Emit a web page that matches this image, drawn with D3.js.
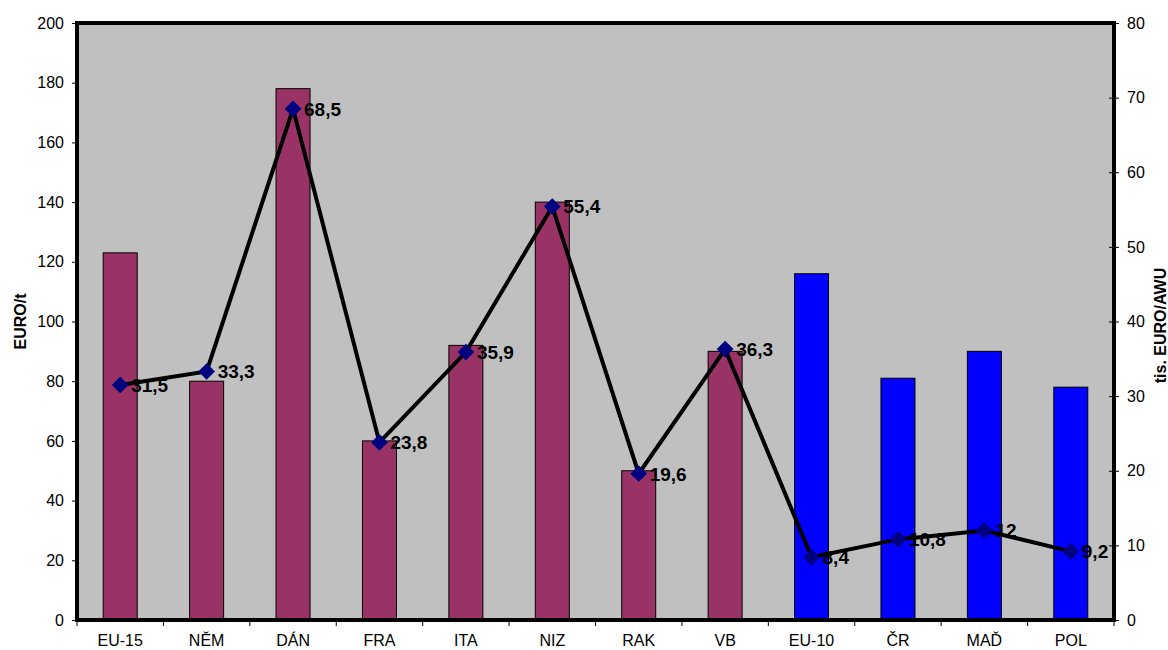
<!DOCTYPE html>
<html>
<head>
<meta charset="utf-8">
<script src="https://cdn.jsdelivr.net/npm/d3@7"></script>
<style>
  body { margin: 0; background: #fff; }
  svg { font-family: "Liberation Sans", Arial, sans-serif; }
  .axis text { font-size: 16px; fill: #000; }
  .axis path, .axis line { stroke: #000; }
  .title { font-size: 16px; font-weight: bold; }
  .lbl { font-size: 19px; font-weight: bold; }
</style>
</head>
<body>
<svg width="1168" height="650"></svg>
<script>
var categories = ["EU-15", "NĚM", "DÁN", "FRA", "ITA", "NIZ", "RAK", "VB", "EU-10", "ČR", "MAĎ", "POL"];
var barValues = [123, 80, 178, 60, 92, 140, 50, 90, 116, 81, 90, 78];
var barGroup = ["EU15", "EU15", "EU15", "EU15", "EU15", "EU15", "EU15", "EU15", "EU10", "EU10", "EU10", "EU10"];
var lineValues = [31.5, 33.3, 68.5, 23.8, 35.9, 55.4, 19.6, 36.3, 8.4, 10.8, 12, 9.2];
var leftTicks = [0, 20, 40, 60, 80, 100, 120, 140, 160, 180, 200];
var rightTicks = [0, 10, 20, 30, 40, 50, 60, 70, 80];

var svg = d3.select("svg"),
    margin = {top: 23, right: 54, bottom: 30, left: 77},
    width = +svg.attr("width") - margin.left - margin.right,
    height = +svg.attr("height") - margin.top - margin.bottom,
    g = svg.append("g").attr("transform", "translate(" + margin.left + "," + margin.top + ")");

var x = d3.scaleBand()
    .domain(categories)
    .range([0, width]);

var y = d3.scaleLinear()
    .domain([0, 200])
    .range([height, 0]);

var y2 = d3.scaleLinear()
    .domain([0, 80])
    .range([height, 0]);

var colour = {EU15: "#993366", EU10: "#0000ff"};

// plot background
g.append("rect")
    .attr("width", width)
    .attr("height", height)
    .attr("fill", "#c0c0c0");

// bars
var bw = 34;
g.selectAll(".bar")
    .data(barValues)
  .enter().append("rect")
    .attr("class", "bar")
    .attr("x", function(d, i) { return x(categories[i]) + x.bandwidth() / 2 - bw / 2; })
    .attr("y", function(d) { return y(d); })
    .attr("width", bw)
    .attr("height", function(d) { return height - y(d); })
    .attr("fill", function(d, i) { return colour[barGroup[i]]; })
    .attr("stroke", "#000")
    .attr("stroke-width", 1);

// axes
var yAxis = d3.axisLeft(y).tickValues(leftTicks).tickSize(5).tickPadding(8);
g.append("g")
    .attr("class", "axis axis--y")
    .call(yAxis)
    .call(function(s) { s.select(".domain").remove(); });

var y2Axis = d3.axisRight(y2).tickValues(rightTicks).tickSize(5).tickPadding(8);
g.append("g")
    .attr("class", "axis axis--y2")
    .attr("transform", "translate(" + width + ",0)")
    .call(y2Axis)
    .call(function(s) {
      s.select(".domain").remove();
      s.selectAll(".tick line").attr("x1", -5);
    });

var xAxis = d3.axisBottom(x).tickSize(0).tickPadding(15);
g.append("g")
    .attr("class", "axis axis--x")
    .attr("transform", "translate(0," + height + ")")
    .call(xAxis)
    .call(function(s) { s.select(".domain").remove(); });

// category boundary ticks
g.selectAll(".xtick")
    .data(d3.range(categories.length + 1))
  .enter().append("line")
    .attr("x1", function(i) { return i * x.step(); })
    .attr("x2", function(i) { return i * x.step(); })
    .attr("y1", height)
    .attr("y2", height + 6)
    .attr("stroke", "#000");

// plot border
g.append("rect")
    .attr("width", width)
    .attr("height", height)
    .attr("fill", "none")
    .attr("stroke", "#000")
    .attr("stroke-width", 4);

// line series
var line = d3.line()
    .x(function(d, i) { return x(categories[i]) + x.bandwidth() / 2; })
    .y(function(d) { return y2(d); });

g.append("path")
    .datum(lineValues)
    .attr("d", line)
    .attr("fill", "none")
    .attr("stroke", "#000")
    .attr("stroke-width", 4)
    .attr("stroke-linejoin", "miter");

g.selectAll(".marker")
    .data(lineValues)
  .enter().append("path")
    .attr("class", "marker")
    .attr("d", d3.symbol().type(d3.symbolSquare).size(140))
    .attr("transform", function(d, i) {
      return "translate(" + (x(categories[i]) + x.bandwidth() / 2) + "," + y2(d) + ") rotate(45)";
    })
    .attr("fill", "#000080");

g.selectAll(".lbl")
    .data(lineValues)
  .enter().append("text")
    .attr("class", "lbl")
    .attr("x", function(d, i) { return x(categories[i]) + x.bandwidth() / 2 + 11; })
    .attr("y", function(d) { return y2(d); })
    .attr("dy", "0.36em")
    .text(function(d) { return String(d).replace(".", ","); });

// axis titles
svg.append("text")
    .attr("class", "title")
    .attr("transform", "translate(26," + (margin.top + height / 2) + ") rotate(-90)")
    .attr("text-anchor", "middle")
    .text("EURO/t");

svg.append("text")
    .attr("class", "title")
    .attr("transform", "translate(1166," + (margin.top + height / 2 + 4) + ") rotate(-90)")
    .attr("text-anchor", "middle")
    .text("tis. EURO/AWU");
</script>
</body>
</html>
